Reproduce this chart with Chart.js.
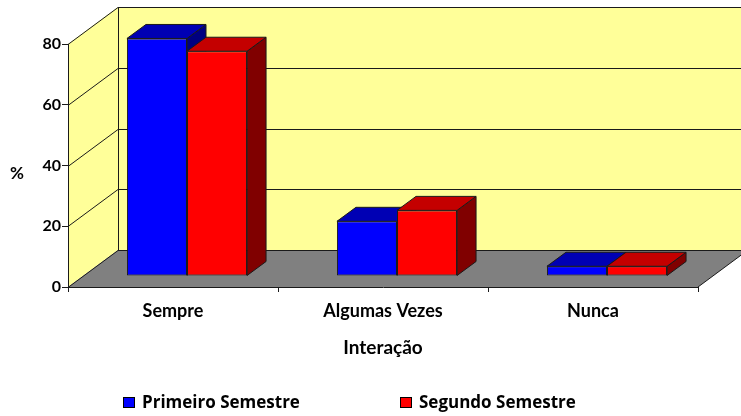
<!DOCTYPE html>
<html>
<head>
<meta charset="utf-8">
<script src="https://cdn.jsdelivr.net/npm/chart.js@4.4.1/dist/chart.umd.min.js"></script>
<style>
  html, body { margin: 0; padding: 0; background: #ffffff; }
  #wrap { width: 741px; height: 416px; }
</style>
</head>
<body>
<div id="wrap"><canvas id="c" width="741" height="416"></canvas></div>
<script>
// ---- data ----
const categories = ['Sempre', 'Algumas Vezes', 'Nunca'];
const primeiroSemestre = [78.2, 18.0, 3.2];
const segundoSemestre = [74.0, 21.6, 3.2];
const seriesNames = ['Primeiro Semestre', 'Segundo Semestre'];
const yTicks = [0, 20, 40, 60, 80];
const yAxisLabel = '%';
const xAxisLabel = 'Interação';

// ---- styles ----
const FONT = 'Lato';
const WALL = '#FFFF99';
const FLOOR = '#808080';
const DEPTH = { dx: 50, dy: -37 };        // wall depth
const BAR_SHIFT = { dx: 14, dy: -11 };    // bars sit a bit behind the front plane
const BAR_DEPTH = { dx: 19, dy: -14 };    // bar extrusion
const faceColors = [
  { front: '#0000FF', top: '#0000B4', side: '#000080' },
  { front: '#FF0000', top: '#C40000', side: '#800000' }
];

const wallsPlugin = {
  id: 'walls',
  beforeDraw(chart) {
    const ctx = chart.ctx;
    const ys = chart.scales.y;
    const L = chart.chartArea.left, R = chart.chartArea.right;
    const y0 = ys.getPixelForValue(ys.min);
    const yT = ys.getPixelForValue(ys.max);
    const { dx, dy } = DEPTH;
    ctx.save();
    ctx.fillStyle = '#ffffff';
    ctx.fillRect(0, 0, chart.width, chart.height);
    // side wall
    ctx.fillStyle = WALL;
    ctx.beginPath();
    ctx.moveTo(L, y0); ctx.lineTo(L + dx, y0 + dy); ctx.lineTo(L + dx, yT + dy); ctx.lineTo(L, yT);
    ctx.closePath(); ctx.fill();
    // back wall
    ctx.fillRect(L + dx, yT + dy, (R + dx) - (L + dx), y0 - yT);
    // floor
    ctx.fillStyle = FLOOR;
    ctx.beginPath();
    ctx.moveTo(L, y0); ctx.lineTo(R, y0); ctx.lineTo(R + dx, y0 + dy); ctx.lineTo(L + dx, y0 + dy);
    ctx.closePath(); ctx.fill();
    // grid lines
    ctx.strokeStyle = '#1a1a1a';
    ctx.lineWidth = 1;
    ys.ticks.forEach(t => {
      const yv = Math.round(ys.getPixelForValue(t.value)) + 0.5;
      ctx.beginPath();
      ctx.moveTo(L, yv); ctx.lineTo(L + dx, yv + dy);
      ctx.lineTo(R + dx, yv + dy);
      ctx.stroke();
    });
    ctx.beginPath();
    ctx.moveTo(L + dx + 0.5, yT + dy); ctx.lineTo(L + dx + 0.5, y0 + dy);
    ctx.moveTo(R, y0); ctx.lineTo(R + dx, y0 + dy);
    ctx.stroke();
    // y axis label
    ctx.fillStyle = '#000';
    ctx.font = 'bold 17px ' + FONT;
    ctx.textAlign = 'center';
    ctx.textBaseline = 'middle';
    ctx.fillText(yAxisLabel, 17, (y0 + yT) / 2 + 8);
    ctx.restore();
  },
  beforeDatasetsDraw(chart) {
    chart.ctx.save();
    chart.ctx.translate(BAR_SHIFT.dx, BAR_SHIFT.dy);
  },
  afterDatasetsDraw(chart) {
    const ctx = chart.ctx;
    const metas = chart.data.datasets.map((d, i) => chart.getDatasetMeta(i));
    const { dx, dy } = BAR_DEPTH;
    metas.forEach((meta, di) => {
      meta.data.forEach((bar, idx) => {
        const p = bar.getProps(['x', 'y', 'base', 'width'], true);
        const l = p.x - p.width / 2, r = p.x + p.width / 2, t = p.y, b = p.base;
        ctx.save();
        // hide parts that are behind later bars' front faces
        ctx.beginPath();
        ctx.rect(-100, -100, chart.width + 200, chart.height + 200);
        for (let k = di + 1; k < metas.length; k++) {
          const ob = metas[k].data[idx].getProps(['x', 'y', 'base', 'width'], true);
          ctx.rect(ob.x - ob.width / 2, ob.y, ob.width, ob.base - ob.y);
        }
        ctx.clip('evenodd');
        ctx.strokeStyle = '#1a1a1a';
        ctx.lineWidth = 1;
        ctx.lineJoin = 'round';
        // side
        ctx.fillStyle = faceColors[di].side;
        ctx.beginPath();
        ctx.moveTo(r, t); ctx.lineTo(r + dx, t + dy); ctx.lineTo(r + dx, b + dy); ctx.lineTo(r, b);
        ctx.closePath(); ctx.fill(); ctx.stroke();
        // top
        ctx.fillStyle = faceColors[di].top;
        ctx.beginPath();
        ctx.moveTo(l, t); ctx.lineTo(r, t); ctx.lineTo(r + dx, t + dy); ctx.lineTo(l + dx, t + dy);
        ctx.closePath(); ctx.fill(); ctx.stroke();
        ctx.restore();
      });
    });
    ctx.restore();
  },
  afterDraw(chart) {
    const ctx = chart.ctx;
    const xsBox = [123, 400];
    ctx.save();
    ctx.font = 'bold 17px "Open Sans"';
    ctx.textBaseline = 'middle';
    ctx.textAlign = 'left';
    chart.data.datasets.forEach((ds, i) => {
      const x = xsBox[i], y = 397;
      ctx.fillStyle = ds.backgroundColor;
      ctx.fillRect(x, y, 12, 11);
      ctx.strokeStyle = '#000';
      ctx.lineWidth = 1;
      ctx.strokeRect(x + 0.5, y + 0.5, 11, 10);
      ctx.fillStyle = '#000';
      ctx.fillText(ds.label, x + 19, y + 6);
    });
    ctx.restore();
  }
};

new Chart(document.getElementById('c'), {
  type: 'bar',
  data: {
    labels: categories,
    datasets: [
      { label: seriesNames[0], data: primeiroSemestre, backgroundColor: faceColors[0].front,
        borderColor: '#1a1a1a', borderWidth: 1, borderSkipped: false, clip: false },
      { label: seriesNames[1], data: segundoSemestre, backgroundColor: faceColors[1].front,
        borderColor: '#1a1a1a', borderWidth: 1, borderSkipped: false, clip: false }
    ]
  },
  options: {
    responsive: false,
    animation: false,
    devicePixelRatio: 1,
    layout: { padding: { top: 44, right: 43, bottom: 53, left: 0 } },
    datasets: { bar: { categoryPercentage: 0.572, barPercentage: 1 } },
    plugins: { legend: { display: false }, tooltip: { enabled: false } },
    scales: {
      x: {
        grid: { drawOnChartArea: false, drawTicks: true, tickLength: 5, color: '#1a1a1a', offset: true },
        border: { display: true, color: '#1a1a1a', width: 1 },
        ticks: { color: '#000', padding: 8, font: { family: FONT, size: 18, weight: 'bold' }, maxRotation: 0 },
        title: { display: true, text: xAxisLabel, color: '#000', font: { family: FONT, size: 19, weight: 'bold' }, padding: { top: 4, bottom: 4 } },
        afterFit(s) { s.height = 76; }
      },
      y: {
        min: 0, max: 80,
        afterBuildTicks(s) { s.ticks = yTicks.map(v => ({ value: v })); },
        grid: { drawOnChartArea: false, drawTicks: true, tickLength: 6, color: '#1a1a1a' },
        border: { display: true, color: '#1a1a1a', width: 1 },
        ticks: { color: '#000', padding: 1, font: { family: FONT, size: 16, weight: 'bold' } },
        afterFit(s) { s.width = 68; }
      }
    }
  },
  plugins: [wallsPlugin]
});
</script>
</body>
</html>
